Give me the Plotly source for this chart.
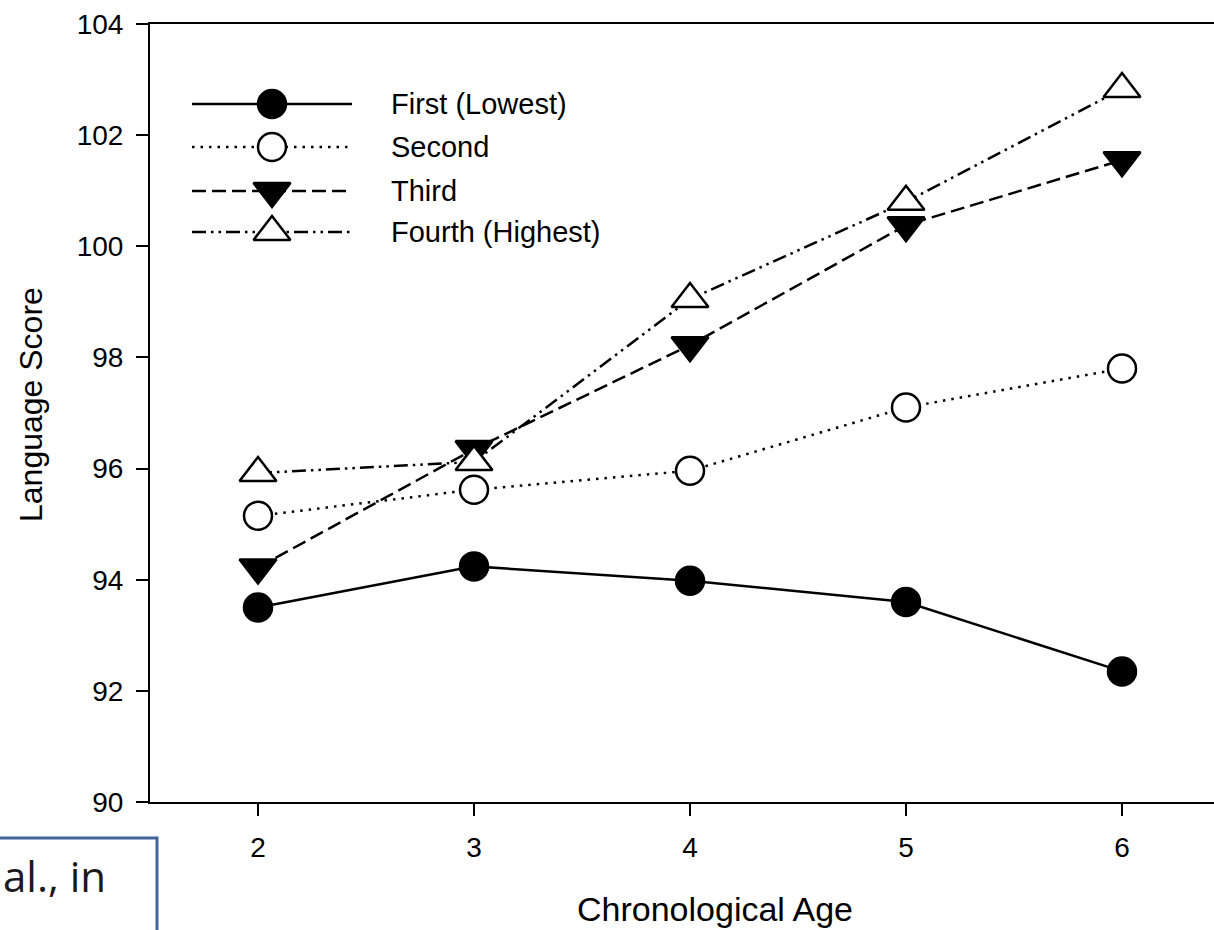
import plotly.graph_objects as go

# ---------------- data ----------------
ages = [2, 3, 4, 5, 6]
first = [93.5, 94.24, 93.98, 93.6, 92.35]
second = [95.15, 95.62, 95.96, 97.1, 97.8]
third = [94.22, 96.35, 98.22, 100.38, 101.55]
fourth = [95.92, 96.12, 99.05, 100.8, 102.83]
series_names = ["First (Lowest)", "Second", "Third", "Fourth (Highest)"]
y_ticks = [90, 92, 94, 96, 98, 100, 102, 104]
x_ticks = [2, 3, 4, 5, 6]
x_title = "Chronological Age"
y_title = "Language Score"
note_text = "al., in"

# ---------------- styles ----------------
W, H = 1214, 930
L, R, T, B = 150, 0, 24, 128
FONT = "Liberation Sans, Arial, sans-serif"
LW = 2.5

styles = [
    dict(dash="solid", symbol="circle", fill="black", size=28),
    dict(dash="2.5px,6px", symbol="circle", fill="white", size=28),
    dict(dash="14px,6px", symbol="triangle-down", fill="black", size=32),
    dict(dash="14px,5px,2.5px,5px,2.5px,5px", symbol="triangle-up", fill="white", size=32),
]
data = [first, second, third, fourth]

fig = go.Figure()

for name, vals, st in zip(series_names, data, styles):
    fig.add_trace(go.Scatter(
        x=ages, y=vals, mode="lines+markers", name=name, showlegend=False,
        line=dict(color="black", width=LW, dash=st["dash"]),
        marker=dict(symbol=st["symbol"], size=st["size"], color=st["fill"],
                    line=dict(color="black", width=2.5)),
        cliponaxis=False,
    ))

# ---------------- hand-drawn legend (pixel overlay axes) ----------------
leg_rows = [104, 147, 191, 232]
leg_x0, leg_x1, leg_xm, leg_tx = 192, 352, 272, 389
for name, st, py in zip(series_names, styles, leg_rows):
    fig.add_trace(go.Scatter(
        x=[leg_x0, leg_x1], y=[py, py], xaxis="x2", yaxis="y2", mode="lines",
        showlegend=False, hoverinfo="skip",
        line=dict(color="black", width=LW, dash=st["dash"]),
    ))
    fig.add_trace(go.Scatter(
        x=[leg_xm], y=[py], xaxis="x2", yaxis="y2", mode="markers",
        showlegend=False, hoverinfo="skip",
        marker=dict(symbol=st["symbol"], size=st["size"], color=st["fill"],
                    line=dict(color="black", width=2.5)),
    ))
    fig.add_annotation(x=leg_tx, y=py, xref="x2", yref="y2", text=name,
                       showarrow=False, xanchor="left", yanchor="middle",
                       font=dict(family=FONT, size=29, color="black"))

def px_to_paper_x(px):
    return (px - L) / (W - L - R)

def px_to_paper_y(py):
    return (H - B - py) / (H - B - T)

# axis titles
fig.add_annotation(x=px_to_paper_x(715), y=px_to_paper_y(909), xref="paper", yref="paper",
                   text=x_title, showarrow=False, xanchor="center", yanchor="middle",
                   font=dict(family=FONT, size=34, color="black"))
fig.add_annotation(x=px_to_paper_x(31), y=px_to_paper_y(405), xref="paper", yref="paper",
                   text=y_title, textangle=-90, showarrow=False, xanchor="center", yanchor="middle",
                   font=dict(family=FONT, size=32, color="black"))

# bottom-left citation box (cropped)
fig.add_shape(type="rect", xref="paper", yref="paper",
              x0=px_to_paper_x(-20), x1=px_to_paper_x(157),
              y0=px_to_paper_y(838), y1=px_to_paper_y(960),
              line=dict(color="#41659a", width=3), fillcolor="white", layer="above")
fig.add_annotation(x=px_to_paper_x(108), y=px_to_paper_y(875), xref="paper", yref="paper",
                   text=note_text, showarrow=False, xanchor="right", yanchor="middle",
                   font=dict(family="Open Sans, Noto Sans, sans-serif", size=42, color="#1a1a1a"))

fig.update_layout(
    width=W, height=H,
    margin=dict(l=L, r=R, t=T, b=B, pad=0),
    paper_bgcolor="white", plot_bgcolor="white",
    showlegend=False,
    font=dict(family=FONT, color="black"),
    xaxis=dict(
        range=[1.5, 1.5 + (W - L - R) / 216.0], tickvals=x_ticks,
        ticks="outside", ticklen=12, tickwidth=2, tickcolor="black",
        showline=True, linecolor="black", linewidth=2, mirror=True,
        showgrid=False, zeroline=False,
        tickfont=dict(family=FONT, size=28, color="black"),
        ticklabelstandoff=7,
    ),
    yaxis=dict(
        range=[90, 104], tickvals=y_ticks,
        ticks="outside", ticklen=12, tickwidth=2, tickcolor="black",
        showline=True, linecolor="black", linewidth=2, mirror=False,
        showgrid=False, zeroline=False,
        tickfont=dict(family=FONT, size=28, color="black"),
        ticklabelstandoff=7,
    ),
    xaxis2=dict(overlaying="x", range=[L, W - R], visible=False, fixedrange=True),
    yaxis2=dict(overlaying="y", range=[H - B, T], visible=False, fixedrange=True),
)

fig.write_html("out.html")
